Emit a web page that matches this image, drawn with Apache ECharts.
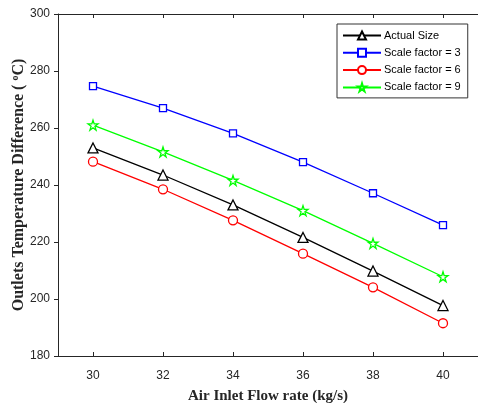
<!DOCTYPE html>
<html><head><meta charset="utf-8">
<script src="https://cdn.jsdelivr.net/npm/echarts@6/dist/echarts.min.js"></script>
<style>html,body{margin:0;padding:0;background:#fff}#c{width:478px;height:403px}</style>
</head><body><div id="c"></div>
<script>
var xValues = [30, 32, 34, 36, 38, 40];
var actualSize = [253, 243.5, 233, 221.6, 209.8, 197.7];
var scale3 = [274.7, 267, 258.1, 248, 237.1, 225.9];
var scale6 = [248.2, 238.5, 227.6, 215.9, 204.1, 191.5];
var scale9 = [261, 251.6, 241.6, 231, 219.5, 207.8];
var xTicks = [30, 32, 34, 36, 38, 40];
var seriesNames = ['Actual Size', 'Scale factor = 3', 'Scale factor = 6', 'Scale factor = 9'];

var starPath = 'path://M50,0 L61.2,34.5 L97.6,34.5 L68.2,55.9 L79.4,90.5 L50,69.1 L20.6,90.5 L31.8,55.9 L2.4,34.5 L38.8,34.5 Z';

function pairs(vals){ return xValues.map(function(x,i){ return [x, vals[i]]; }); }
function mk(name, vals, color, symbol, size){
  return {
    name: name, type: 'line', data: pairs(vals), symbol: symbol, symbolSize: size,
    showAllSymbol: true,
    lineStyle: {color: color, width: 1.3},
    itemStyle: {color: '#fff', borderColor: color, borderWidth: 1.3},
    emphasis: {disabled: true}, animation: false, z: 3
  };
}
var chart = echarts.init(document.getElementById('c'));
chart.setOption({
  animation: false,
  backgroundColor: '#fff',
  grid: {left: 58, right: 0, top: 14, bottom: 47, containLabel: false, outerBoundsMode: 'none'},
  legend: {
    orient: 'vertical', left: 337, top: 24,
    padding: [6, 7, 5, 5], itemGap: 6.3, itemWidth: 38, itemHeight: 10,
    borderColor: '#333', borderWidth: 1, backgroundColor: '#fff',
    textStyle: {fontFamily: 'Liberation Sans, Arial', fontSize: 11, color: '#000', padding: [0,0,0,-2]},
    data: seriesNames
  },
  xAxis: [{
    type: 'value', min: 29, max: 41, position: 'bottom',
    axisLine: {show: true, lineStyle: {color: '#262626', width: 1}},
    axisTick: {show: true, inside: true, length: 4, customValues: xTicks, lineStyle: {color: '#262626'}},
    axisLabel: {customValues: xTicks, margin: 14, fontFamily: 'Liberation Sans, Arial', fontSize: 12, color: '#262626'},
    splitLine: {show: false},
    name: 'Air Inlet Flow rate (kg/s)', nameLocation: 'middle', nameGap: 33, nameMoveOverlap: false,
    nameTextStyle: {fontFamily: 'Liberation Serif, Times New Roman', fontWeight: 'bold', fontSize: 15, color: '#262626'}
  }, {
    type: 'value', min: 29, max: 41, position: 'top',
    axisLine: {show: true, onZero: false, lineStyle: {color: '#262626', width: 1}},
    axisTick: {show: true, inside: true, length: 4, customValues: xTicks, lineStyle: {color: '#262626'}},
    axisLabel: {show: false}, splitLine: {show: false}
  }],
  yAxis: [{
    type: 'value', min: 180, max: 300, interval: 20,
    axisLine: {show: true, lineStyle: {color: '#262626', width: 1}},
    axisTick: {show: true, inside: false, length: 4, lineStyle: {color: '#262626'}},
    axisLabel: {margin: 8, fontFamily: 'Liberation Sans, Arial', fontSize: 12, color: '#262626'},
    splitLine: {show: false},
    name: 'Outlets Temperature Difference ( {sup|o}C)', nameLocation: 'middle', nameGap: 31, nameMoveOverlap: false,
    nameTextStyle: {fontFamily: 'Liberation Serif, Times New Roman', fontWeight: 'bold', fontSize: 16, color: '#262626',
      rich: {sup: {fontFamily: 'Liberation Serif, Times New Roman', fontWeight: 'bold', fontSize: 10, color: '#262626', verticalAlign: 'top', padding: [0,0,7,0]}}}
  }],
  series: [
    mk(seriesNames[0], actualSize, '#000000', 'triangle', 10),
    mk(seriesNames[1], scale3, '#0000ff', 'rect', 7),
    mk(seriesNames[2], scale6, '#ff0000', 'circle', 9),
    mk(seriesNames[3], scale9, '#00ff00', starPath, 10)
  ]
});
</script></body></html>
